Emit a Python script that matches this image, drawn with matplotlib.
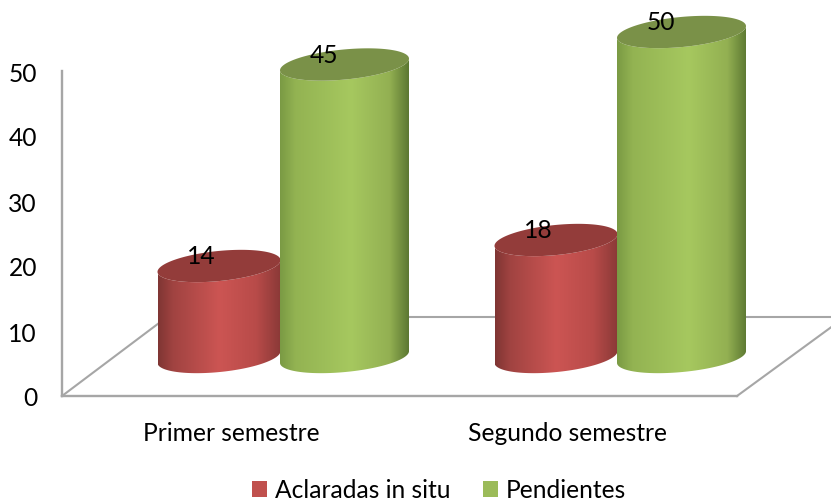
#!/usr/bin/env python
# -*- coding: utf-8 -*-

import numpy as np
from matplotlib import pyplot as plt
from matplotlib.patches import Patch, Polygon
from matplotlib.colors import LinearSegmentedColormap

plt.rcParams['font.family'] = ['Lato', 'DejaVu Sans']

categories = ['Primer semestre', 'Segundo semestre']
aclaradas = [14, 18]
pendientes = [45, 50]
yticks = [0, 10, 20, 30, 40, 50]
series_names = ['Aclaradas in situ', 'Pendientes']

W, H = 831, 502
PX_Y = 6.5    # pixels per value unit
PX_X = 337.0  # pixels per category
FLOOR = 12.15  # depth of the floor, in value units
BASE = 6.0     # where the cylinders stand
ELL_B = 2.32   # ellipse half height
ELL_S = 0.9    # ellipse tilt

red_cmap = LinearSegmentedColormap.from_list('r', [
    (0, '#7f3533'), (0.12, '#a04341'), (0.5, '#cc5553'), (0.8, '#b84b49'), (1, '#8a3937')])
green_cmap = LinearSegmentedColormap.from_list('g', [
    (0, '#7a9a44'), (0.12, '#93b352'), (0.55, '#a6c85f'), (0.85, '#93b052'), (1, '#5c7832')])

fig = plt.figure(figsize=(W / 100, H / 100), dpi=100)
ax = fig.add_axes([62 / W, (H - 397) / H, (W - 62) / W, 397 / H])
ax.set_xlim(-169 / PX_X, 600 / PX_X)
ax.set_ylim(0, 397 / PX_Y)
ax.patch.set_visible(False)

# floor and axes
grey = '#a6a6a6'
right_x = 506 / PX_X
depth_x = 105 / PX_X
for s in ['top', 'right']:
    ax.spines[s].set_visible(False)
for s in ['left', 'bottom']:
    ax.spines[s].set_color(grey)
    ax.spines[s].set_linewidth(1.7)
ax.spines['left'].set_bounds(0, 50)
ax.spines['bottom'].set_bounds(-169 / PX_X, right_x)
floor_style = dict(color=grey, lw=1.5, clip_on=False, zorder=1)
ax.plot([-169 / PX_X, -169 / PX_X + depth_x], [0, FLOOR], **floor_style)
ax.plot([-169 / PX_X + depth_x, 600 / PX_X], [FLOOR, FLOOR], **floor_style)
ax.plot([right_x, 600 / PX_X], [0, FLOOR * 0.87], **floor_style)


def cylinder(xc, value, half_w, cmap, top_color):
    t = np.linspace(0, np.pi, 80)
    xs = xc + half_w * np.cos(t)
    top = BASE + value
    lower = BASE + ELL_S * np.cos(t) - ELL_B * np.sin(t)
    upper = top + ELL_S * np.cos(t) - ELL_B * np.sin(t)
    outline = np.column_stack([np.r_[xs, xs[::-1]], np.r_[lower, upper[::-1]]])
    side = Polygon(outline, closed=True, fc='none', ec='none', transform=ax.transData)
    ax.add_patch(side)
    grad = np.linspace(0, 1, 256).reshape(1, -1)
    im = ax.imshow(grad, cmap=cmap, aspect='auto', zorder=3, interpolation='bilinear',
                   extent=[xc - half_w, xc + half_w, BASE - 3, top + 3])
    im.set_clip_path(side)
    t2 = np.linspace(0, 2 * np.pi, 160)
    cap = np.column_stack([xc + half_w * np.cos(t2),
                           top + ELL_S * np.cos(t2) + ELL_B * np.sin(t2)])
    ax.add_patch(Polygon(cap, closed=True, fc=top_color, ec='none', zorder=3))
    return top


font = 17.7
for i in range(len(categories)):
    red_c = i + (219 - 231) / PX_X
    green_c = i + (344.5 - 231) / PX_X
    top = cylinder(red_c, aclaradas[i], 61.5 / PX_X, red_cmap, '#933c3a')
    ax.text(red_c - 18 / PX_X, top + 1.6, str(aclaradas[i]), ha='center', va='center',
            fontsize=font, color='black', zorder=5)
    top = cylinder(green_c, pendientes[i], 64.5 / PX_X, green_cmap, '#7a9148')
    ax.text(green_c - 21 / PX_X, top + 1.6, str(pendientes[i]), ha='center', va='center',
            fontsize=font, color='black', zorder=5)

ax.set_xlim(-169 / PX_X, 600 / PX_X)
ax.set_ylim(0, 397 / PX_Y)

ax.set_yticks(yticks)
ax.set_xticks(range(len(categories)))
ax.set_xticklabels(categories)
ax.tick_params(axis='y', length=0, pad=18, labelsize=font, labelcolor='black')
ax.tick_params(axis='x', length=0, pad=18, labelsize=font, labelcolor='black')

handles = [Patch(fc='#c0504d'), Patch(fc='#9bbb59')]
fig.legend(handles, series_names, loc='center', bbox_to_anchor=(439 / W, 1 - 491 / H),
           ncol=2, frameon=False, fontsize=font, handlelength=0.62, handleheight=0.62,
           handletextpad=0.3, columnspacing=1.35, borderpad=0, borderaxespad=0)

fig.savefig('out.png', dpi=100)
